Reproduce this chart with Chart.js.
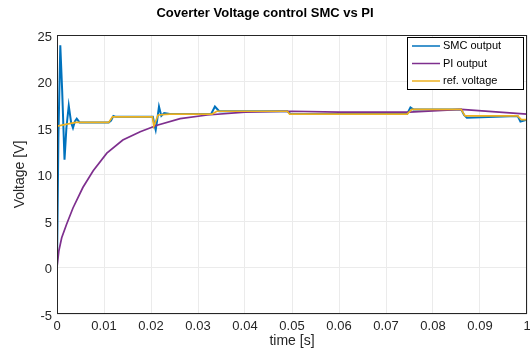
<!DOCTYPE html>
<html>
<head>
<meta charset="utf-8">
<script src="https://cdn.jsdelivr.net/npm/chart.js@4.4.1/dist/chart.umd.min.js"></script>
<style>
  html, body { margin: 0; padding: 0; background: #fff; }
  #wrap { width: 530px; height: 348px; }
</style>
</head>
<body>
<div id="wrap"><canvas id="voltChart" width="530" height="348"></canvas></div>
<script>
// data
const smcTime = [0, 0.0003, 0.0007, 0.0011, 0.0016, 0.002, 0.0025, 0.003, 0.0034, 0.0038, 0.0042, 0.0048,
    0.011, 0.0115, 0.012, 0.0125, 0.0204, 0.0207, 0.021, 0.0213, 0.0217, 0.0222, 0.0228, 0.024,
    0.0328, 0.0336, 0.0345, 0.049, 0.0497, 0.0745, 0.0752, 0.0758, 0.086, 0.0866, 0.0872, 0.098, 0.0986, 0.1];
const smcVolt = [0, 14, 23.9, 19, 11.6, 15, 17.4, 15.6, 15.0, 15.7, 16.0, 15.6,
    15.6, 15.8, 16.3, 16.2, 16.2, 15.4, 14.8, 15.8, 17.3, 16.3, 16.6, 16.5,
    16.5, 17.3, 16.8, 16.8, 16.5, 16.5, 17.2, 17.0, 17.0, 16.4, 16.1, 16.3, 15.7, 15.9];

const piTime = [0, 0.0004, 0.001, 0.002, 0.0034, 0.0055, 0.0077, 0.0106, 0.014, 0.0177, 0.0213, 0.0262,
    0.032, 0.04, 0.05, 0.06, 0.075, 0.086, 0.1];
const piVolt = [0, 1.8, 3.2, 4.6, 6.4, 8.6, 10.4, 12.3, 13.7, 14.6, 15.3, 16.0,
    16.4, 16.7, 16.8, 16.7, 16.7, 17.0, 16.5];

const refTime = [0, 0.004, 0.011, 0.0118, 0.0203, 0.0206, 0.0215, 0.024, 0.033, 0.034, 0.049, 0.0495,
    0.0745, 0.0755, 0.086, 0.0868, 0.098, 0.0988, 0.1];
const refVolt = [15.2, 15.6, 15.6, 16.2, 16.2, 15.2, 16.4, 16.5, 16.5, 16.8, 16.8, 16.5,
    16.5, 17.0, 17.0, 16.3, 16.3, 15.9, 15.9];

const xTickLabels = ['0', '0.01', '0.02', '0.03', '0.04', '0.05', '0.06', '0.07', '0.08', '0.09', '1'];
const seriesNames = ['SMC output', 'PI output', 'ref. voltage'];
const seriesColors = ['#0072BD', '#7E2F8E', '#EDB120'];

const toPoints = (ts, vs) => ts.map((t, i) => ({ x: t, y: vs[i] }));

const FONT = "'Liberation Sans', Arial, sans-serif";

// box around plot area + legend inside, matlab style
const boxPlugin = {
    id: 'boxAndLegend',
    afterDatasetsDraw(chart) {
        const { ctx, chartArea: a } = chart;
        ctx.save();
        ctx.strokeStyle = '#262626';
        ctx.lineWidth = 1;
        ctx.strokeRect(a.left + 0.5, a.top + 0.5, a.right - a.left - 1, a.bottom - a.top - 1);

        // legend
        const lx = 407, ly = 37, lw = 116, lh = 52;
        ctx.fillStyle = '#fff';
        ctx.fillRect(lx, ly, lw, lh);
        ctx.strokeStyle = '#000';
        ctx.strokeRect(lx + 0.5, ly + 0.5, lw, lh);
        ctx.font = '11px ' + FONT;
        ctx.textBaseline = 'middle';
        chart.data.datasets.forEach((ds, i) => {
            const y = ly + 9 + i * 17.5;
            ctx.strokeStyle = ds.borderColor;
            ctx.lineWidth = 1.5;
            ctx.beginPath();
            ctx.moveTo(lx + 5, y);
            ctx.lineTo(lx + 33, y);
            ctx.stroke();
            ctx.fillStyle = '#000';
            ctx.fillText(ds.label, lx + 36, y);
        });
        ctx.restore();
    }
};

const ctx = document.getElementById('voltChart').getContext('2d');
new Chart(ctx, {
    type: 'line',
    data: {
        datasets: [
            { label: seriesNames[0], data: toPoints(smcTime, smcVolt), borderColor: seriesColors[0], borderWidth: 2, order: 2 },
            { label: seriesNames[1], data: toPoints(piTime, piVolt), borderColor: seriesColors[1], borderWidth: 1.7, order: 1 },
            { label: seriesNames[2], data: toPoints(refTime, refVolt), borderColor: seriesColors[2], borderWidth: 1.7, order: 0 }
        ]
    },
    options: {
        responsive: false,
        animation: false,
        events: [],
        elements: { point: { radius: 0 }, line: { tension: 0 } },
        layout: { padding: { left: 0, right: 0, top: 0, bottom: 0 } },
        plugins: {
            legend: { display: false },
            tooltip: { enabled: false },
            title: {
                display: true,
                text: 'Coverter Voltage control SMC vs PI',
                color: '#000',
                font: { family: FONT, size: 13, weight: 'bold' },
                padding: { top: 6, bottom: 13.4 }
            }
        },
        scales: {
            x: {
                type: 'linear',
                min: 0, max: 0.1,
                afterBuildTicks: (s) => { s.ticks = xTickLabels.map((_, i) => ({ value: i * 0.01 })); },
                ticks: {
                    callback: (v, i) => xTickLabels[i],
                    color: '#262626',
                    font: { family: FONT, size: 13 },
                    maxRotation: 0, autoSkip: false, padding: 5
                },
                grid: { color: '#ebebeb', drawTicks: false },
                border: { display: false },
                title: { display: true, text: 'time [s]', color: '#262626', font: { family: FONT, size: 14 }, padding: { top: 0, bottom: -2 } },
                afterFit: (s) => { s.height = 34; s.paddingRight = 3; }
            },
            y: {
                min: -5, max: 25,
                ticks: {
                    stepSize: 5,
                    color: '#262626',
                    font: { family: FONT, size: 13 },
                    padding: 5,
                    labelOffset: 2
                },
                grid: { color: '#ebebeb', drawTicks: false },
                border: { display: false },
                title: { display: true, text: 'Voltage [V]', color: '#262626', font: { family: FONT, size: 14 }, padding: { top: 12, bottom: 0 } },
                afterFit: (s) => { s.width = 57; }
            }
        }
    },
    plugins: [boxPlugin]
});
</script>
</body>
</html>
